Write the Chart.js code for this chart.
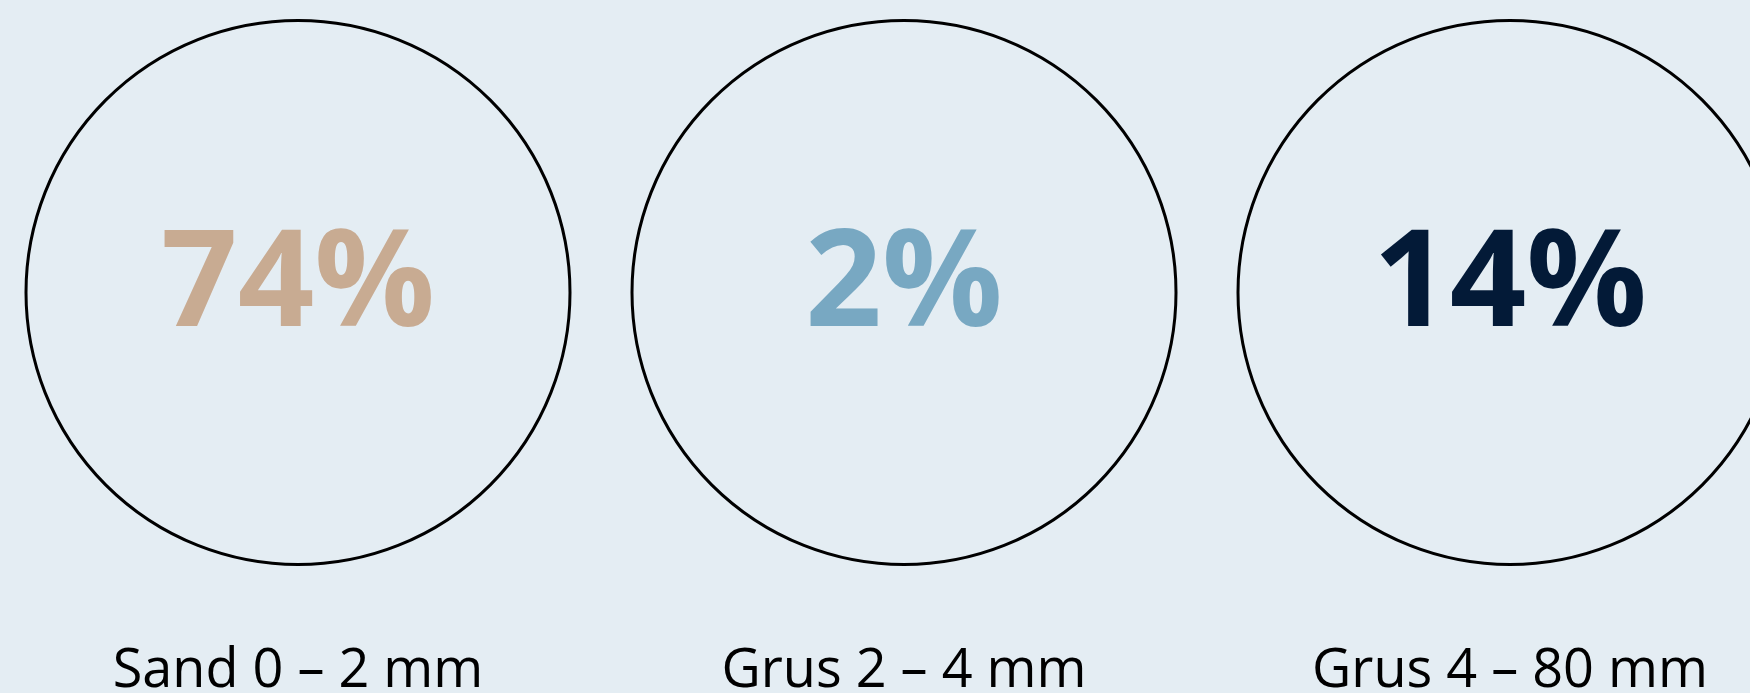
<!DOCTYPE html>
<html lang="sv">
<head>
<meta charset="utf-8">
<title>Kornstorlek</title>
<script src="https://cdn.jsdelivr.net/npm/chart.js@4"></script>
<style>
  html, body { margin: 0; padding: 0; background: #e4edf3; overflow: hidden; }
  #wrap { position: absolute; left: -5px; top: 0; width: 1818px; height: 704px; }
</style>
</head>
<body>
<div id="wrap"><canvas id="myChart"></canvas></div>
<script>
// kornstorlekar och andel i procent
const categories = ['Sand 0 – 2 mm', 'Grus 2 – 4 mm', 'Grus 4 – 80 mm'];
const percents = [74, 2, 14];
const textColors = ['#c8ab92', '#78a8c2', '#031a37'];

// skriver procentsiffran mitt i varje cirkel
const percentLabels = {
  id: 'percentLabels',
  afterDatasetsDraw(chart) {
    const ctx = chart.ctx;
    const meta = chart.getDatasetMeta(0);
    ctx.save();
    ctx.font = 'bold 134px "Open Sans"';
    ctx.textAlign = 'center';
    ctx.textBaseline = 'alphabetic';
    meta.data.forEach((el, i) => {
      ctx.fillStyle = textColors[i];
      ctx.fillText(percents[i] + '%', el.x, el.y + 33);
    });
    ctx.restore();
  }
};

var ctx = document.getElementById('myChart');

var myChart = new Chart(ctx, {
  type: 'bubble',
  data: {
    labels: categories,
    datasets: [{
      data: categories.map(c => ({ x: c, y: 0 })),
      radius: 272,
      hoverRadius: 0,
      backgroundColor: 'transparent',
      borderColor: '#000',
      borderWidth: 3,
      hoverBorderWidth: 3,
      clip: false
    }]
  },
  options: {
    responsive: true,
    maintainAspectRatio: false,
    animation: false,
    events: [],
    layout: { padding: 0, autoPadding: false },
    plugins: {
      legend: { display: false },
      tooltip: { enabled: false }
    },
    scales: {
      x: {
        type: 'category',
        labels: categories,
        offset: true,
        grid: { display: false },
        border: { display: false },
        ticks: {
          color: '#000',
          padding: 0,
          maxRotation: 0,
          autoSkip: false,
          font: { family: 'Open Sans', size: 54 }
        }
      },
      y: {
        display: false,
        min: -1,
        max: 0.8636
      }
    }
  },
  plugins: [percentLabels]
});
</script>
</body>
</html>
